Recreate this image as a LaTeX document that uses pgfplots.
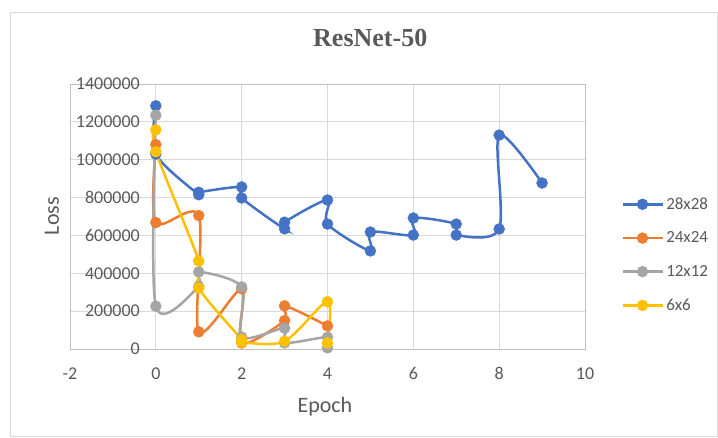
\documentclass[border=0pt]{standalone}
\usepackage{pgfplots}
\pgfplotsset{compat=1.18}
\usepackage{fontspec}
\setmainfont{Carlito}
\newfontfamily\titlefont{Liberation Serif}
\definecolor{cblue}{HTML}{4472C4}
\definecolor{corange}{HTML}{ED7D31}
\definecolor{cgray}{HTML}{A5A5A5}
\definecolor{cyellow}{HTML}{FFC000}
\definecolor{tickgray}{HTML}{595959}
\definecolor{gridgray}{HTML}{D9D9D9}
\definecolor{axisgray}{HTML}{BFBFBF}
\begin{document}
\begin{tikzpicture}
\useasboundingbox (-70pt,-88pt) rectangle (648pt,349pt);
\draw[color=gridgray, line width=0.8pt] (-59.5pt,-87.5pt) rectangle (647.5pt,336.5pt);
\begin{axis}[
  at={(0pt,0pt)}, anchor=south west,
  scale only axis, width=515pt, height=265pt,
  xmin=-2, xmax=10, ymin=0, ymax=1400000,
  xtick={-2,0,2,4,6,8,10},
  ytick={0,200000,400000,600000,800000,1000000,1200000,1400000},
  scaled y ticks=false,
  grid=major,
  major grid style={color=gridgray, line width=0.8pt},
  axis line style={color=axisgray, line width=0.8pt},
  major tick length=0pt,
  tick label style={font=\fontsize{18}{18}\selectfont, color=tickgray},
  /pgf/number format/assume math mode=true,
  yticklabel style={/pgf/number format/fixed, /pgf/number format/1000 sep={}, anchor=east, inner sep=0pt, xshift=70pt},
  xticklabel style={anchor=base, inner sep=0pt, yshift=-30pt},
  title={ResNet-50},
  title style={font=\titlefont\bfseries\fontsize{26}{26}\selectfont, color=tickgray,
    at={(axis description cs:0.583,1)}, anchor=base, yshift=32pt},
  xlabel={Epoch},
  xlabel style={font=\fontsize{22}{22}\selectfont, color=tickgray,
    at={(axis description cs:0.495,-0.238)}, anchor=base},
  ylabel={Loss},
  ylabel style={font=\fontsize{22}{22}\selectfont, color=tickgray,
    at={(axis description cs:-0.035,0.502)}, anchor=center},
  legend style={at={(axis description cs:1.07,0.581)}, anchor=north west,
    draw=none, fill=none, font=\fontsize{17}{17}\selectfont, text=tickgray,
    row sep=16pt, inner sep=0pt, nodes={inner sep=2.5pt}},
  legend cell align=left,
  legend image code/.code={\draw[mark repeat=2,mark phase=2] plot coordinates {(0pt,0pt) (20pt,0pt) (40pt,0pt)};},
  ser/.style={color=#1, mark=*, mark size=5.5pt, line width=2.5pt, smooth, tension=0.5,
    mark options={solid, fill=#1, draw=#1, line width=0.4pt}},
]
\addplot[ser=cblue] coordinates {
 (0,1285000) (0,1030000) (1,815000) (1,828000) (2,856000) (2,798000)
 (3,635000) (3,670000) (4,787000) (4,660000) (5,518000) (5,618000)
 (6,602000) (6,692000) (7,660000) (7,602000) (8,634000) (8,1130000) (9,877000)
};
\addlegendentry{28x28}
\addplot[ser=corange] coordinates {
 (0,1080000) (0,668000) (1,705000) (1,91000) (2,318000) (2,32000)
 (3,150000) (3,228000) (4,122000)
};
\addlegendentry{24x24}
\addplot[ser=cgray] coordinates {
 (0,1235000) (0,226000) (1,330000) (1,407000) (2,328000) (2,63000)
 (3,110000) (3,32000) (4,62000) (4,6000)
};
\addlegendentry{12x12}
\addplot[ser=cyellow] coordinates {
 (0,1158000) (0,1042000) (1,465000) (1,322000) (2,50000) (2,36000)
 (3,41000) (4,250000) (4,32000)
};
\addlegendentry{6x6}
\end{axis}
\end{tikzpicture}
\end{document}
